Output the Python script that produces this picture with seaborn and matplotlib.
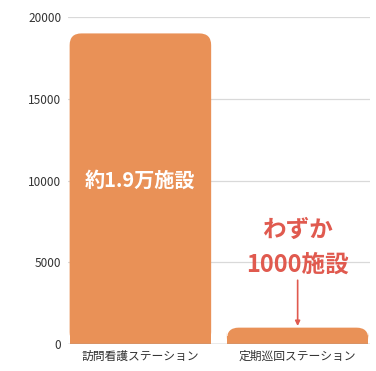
import matplotlib
matplotlib.use("Agg")
import matplotlib.pyplot as plt
import seaborn as sns
import pandas as pd
from matplotlib.patches import FancyBboxPatch, Rectangle

categories = ["訪問看護ステーション", "定期巡回ステーション"]
values = [19000, 1000]
yticks = [0, 5000, 10000, 15000, 20000]
bar_label = "約1.9万施設"
note_lines = ["わずか", "1000施設"]

sns.set_theme(style="white")
plt.rcParams['font.family'] = ['Noto Sans CJK JP', 'DejaVu Sans']

ORANGE = "#E99157"
RED = "#E05A4F"

fig = plt.figure(figsize=(3.76, 3.71), dpi=100)
ax = fig.add_axes([0.181, 0.0728, 0.803, 0.8812])

df = pd.DataFrame({"cat": categories, "val": values})
sns.barplot(data=df, x="cat", y="val", color=ORANGE, saturation=1, width=0.9, ax=ax, zorder=2)

ax.set_xlim(-0.46, 1.46)
ax.set_ylim(0, 20000)
ax.set_yticks(yticks)
ax.set_yticklabels([str(t) for t in yticks])

for t in yticks[1:]:
    ax.axhline(t, color="#D9D9D9", lw=0.9, zorder=0)
ax.axhline(0, color="#9A9A9A", lw=1.0, zorder=3)

# rounded top corners
rx = 0.075
ry = 720
for p in list(ax.patches):
    x0, y0 = p.get_x(), p.get_y()
    w, h = p.get_width(), p.get_height()
    p.set_visible(False)
    fb = FancyBboxPatch((x0, y0), w, h,
                        boxstyle=f"round,pad=0,rounding_size={rx}",
                        mutation_aspect=ry / rx,
                        facecolor=ORANGE, edgecolor="none", zorder=2)
    ax.add_patch(fb)
    ax.add_patch(Rectangle((x0, y0), w, h / 2, facecolor=ORANGE,
                           edgecolor="none", zorder=2))

for s in ax.spines.values():
    s.set_visible(False)

ax.tick_params(axis="y", length=0, pad=5, labelsize=8.5, labelcolor="#333333")
ax.tick_params(axis="x", length=0, pad=4, labelsize=8.5, labelcolor="#333333")
ax.set_xlabel("")
ax.set_ylabel("")

ax.text(0, 10000, bar_label, ha="center", va="center", color="white",
        fontsize=14.5, fontweight="bold", zorder=5)
ax.text(1, 6950, note_lines[0], ha="center", va="center", color=RED,
        fontsize=17, fontweight="bold", zorder=5)
ax.text(1, 4850, note_lines[1], ha="center", va="center", color=RED,
        fontsize=17, fontweight="bold", zorder=5)
ax.annotate("", xy=(1, 1100), xytext=(1, 3900),
            arrowprops=dict(arrowstyle="-|>", color=RED, lw=1.2,
                            mutation_scale=7, shrinkA=0, shrinkB=0), zorder=5)

fig.savefig("out.png", dpi=100)
